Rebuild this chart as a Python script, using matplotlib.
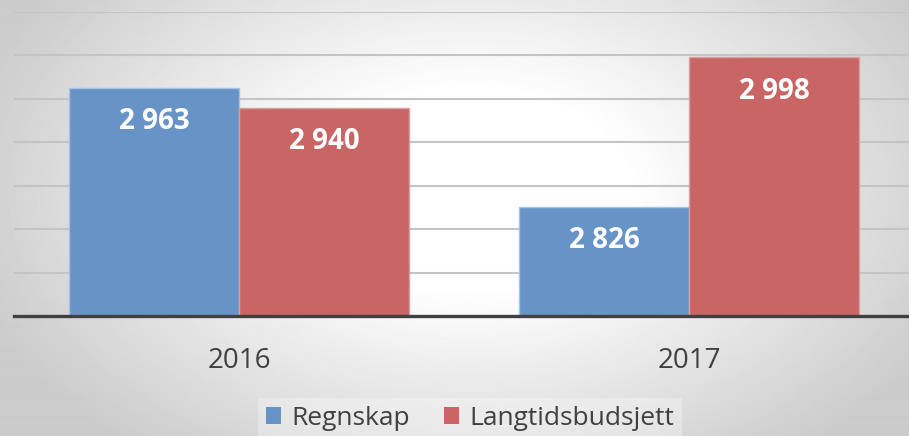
import numpy as np
import matplotlib.pyplot as plt
from matplotlib.patches import Patch

years = ['2016', '2017']
regnskap = [2963, 2826]
langtid = [2940, 2998]
series_names = ['Regnskap', 'Langtidsbudsjett']

BLUE = '#6893c7'
RED = '#c96665'
TEXT = '#404040'
FONT = ['Open Sans', 'DejaVu Sans']


def fmt(v):
    # Norwegian thousands separator (space)
    return '{:,}'.format(v).replace(',', ' ')


fig = plt.figure(figsize=(9.09, 4.36), dpi=100)

# Radial grey-to-white backdrop
bg = fig.add_axes([0, 0, 1, 1], zorder=-10)
yy, xx = np.mgrid[0:436, 0:909]
r = np.sqrt(((xx - 470) / 520.0) ** 2 + ((yy - 190) / 330.0) ** 2)
shade = 1.0 - 0.2 * np.clip(r - 0.3, 0, None) / 0.7
bg.imshow(np.clip(shade, 0.8, 1.0), cmap='gray', vmin=0, vmax=1,
          aspect='auto', interpolation='bilinear')
bg.axis('off')

ax = fig.add_axes([14 / 909, 120 / 436, 900 / 909, 304 / 436])
ax.patch.set_alpha(0)

x = np.arange(len(years))
w = 0.378
b1 = ax.bar(x - w / 2, regnskap, w, color=BLUE, edgecolor='#a8c2e3',
            linewidth=1, zorder=3, label=series_names[0])
b2 = ax.bar(x + w / 2, langtid, w, color=RED, edgecolor='#dc9f9e',
            linewidth=1, zorder=3, label=series_names[1])

for bars in (b1, b2):
    for rect in bars:
        h = rect.get_height()
        ax.text(rect.get_x() + rect.get_width() / 2, h - 48, fmt(int(h)),
                ha='center', va='baseline', color='white', fontsize=20,
                fontweight='bold', family=FONT, zorder=4)

ax.set_ylim(2700, 3050)
ax.set_xlim(-0.5, 1.5)
ax.set_yticks(np.arange(2750, 3051, 50))
ax.yaxis.grid(True, color='#c4c4c4', linewidth=1.5, zorder=0)
ax.tick_params(axis='y', length=0, labelleft=False)
ax.set_xticks(x)
ax.set_xticklabels(years, fontsize=20, color=TEXT, family=FONT)
ax.tick_params(axis='x', length=0, pad=22)
for s in ('top', 'left', 'right'):
    ax.spines[s].set_visible(False)
ax.spines['bottom'].set_color('#404040')
ax.spines['bottom'].set_linewidth(2.4)
ax.spines['bottom'].set_zorder(5)

handles = [Patch(facecolor=BLUE, edgecolor='none'),
           Patch(facecolor=RED, edgecolor='none')]
leg = fig.legend(handles, series_names, loc='center',
                 bbox_to_anchor=(470 / 909, 1 - 418 / 436), ncol=2,
                 frameon=True, fancybox=False, handlelength=0.55,
                 handleheight=0.6, handletextpad=0.4, columnspacing=1.3,
                 borderpad=0.3, prop={'family': FONT, 'size': 19})
leg.get_frame().set_facecolor('white')
leg.get_frame().set_alpha(0.3)
leg.get_frame().set_edgecolor('none')
for t in leg.get_texts():
    t.set_color(TEXT)

plt.savefig('out.png', dpi=100)
